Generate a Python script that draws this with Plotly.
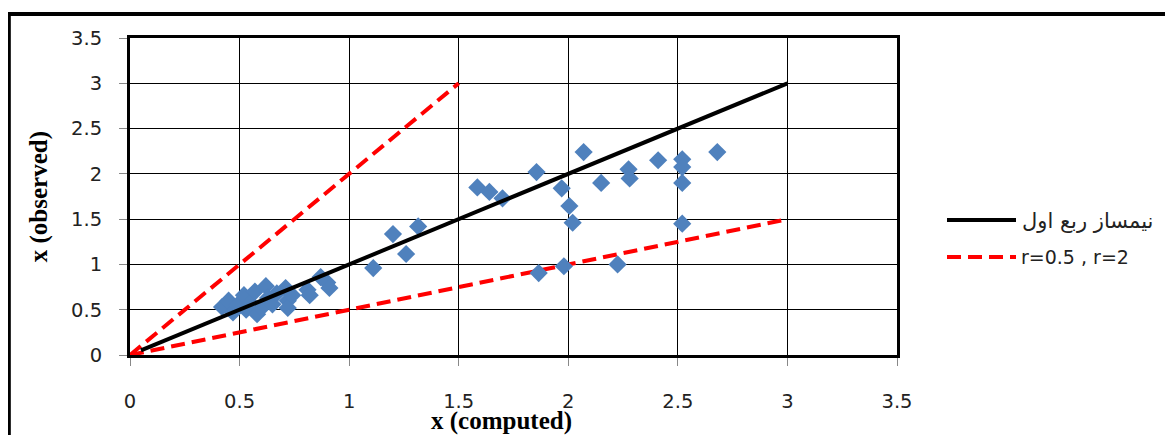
import plotly.graph_objects as go

# observed vs computed values
x_computed = [0.42, 0.45, 0.47, 0.49, 0.52, 0.53, 0.55, 0.57, 0.58, 0.60, 0.62, 0.63, 0.65, 0.67,
              0.71, 0.72, 0.72, 0.74, 0.81, 0.82, 0.87, 0.90, 0.91,
              1.11, 1.20, 1.26, 1.315,
              1.585, 1.64, 1.70, 1.855, 1.865, 1.97, 1.98, 2.005, 2.02, 2.07, 2.15,
              2.225, 2.275, 2.28, 2.41, 2.52, 2.52, 2.52, 2.52, 2.68]
x_observed = [0.53, 0.60, 0.47, 0.55, 0.66, 0.50, 0.57, 0.70, 0.45, 0.52, 0.76, 0.63, 0.56, 0.68,
              0.74, 0.60, 0.52, 0.66, 0.72, 0.66, 0.86, 0.80, 0.74,
              0.96, 1.335, 1.115, 1.42,
              1.85, 1.80, 1.73, 2.02, 0.905, 1.84, 0.98, 1.645, 1.46, 2.24, 1.90,
              1.00, 2.05, 1.95, 2.15, 2.16, 2.075, 1.90, 1.45, 2.24]

# reference lines
bisector_x = [0.05, 3.0]
bisector_y = [0.05, 3.0]
r2_x = [0.0, 1.5]
r2_y = [0.0, 3.0]
r05_x = [0.0, 3.0]
r05_y = [0.0, 1.5]

legend_labels = ["نیمساز ربع اول", "r=0.5 , r=2"]
tick_vals = [0, 0.5, 1, 1.5, 2, 2.5, 3, 3.5]
tick_text = ["0", "0.5", "1", "1.5", "2", "2.5", "3", "3.5"]

RED = "#FF0000"
BLUE = "#4F81BD"

fig = go.Figure()
fig.add_trace(go.Scatter(x=r2_x, y=r2_y, mode="lines",
                         line=dict(color=RED, width=4, dash="14px,7px"), showlegend=False))
fig.add_trace(go.Scatter(x=r05_x, y=r05_y, mode="lines",
                         line=dict(color=RED, width=4, dash="14px,7px"), showlegend=False))
fig.add_trace(go.Scatter(x=x_computed, y=x_observed, mode="markers",
                         marker=dict(symbol="diamond", size=14, color=BLUE), showlegend=False))
fig.add_trace(go.Scatter(x=bisector_x, y=bisector_y, mode="lines",
                         line=dict(color="black", width=4), showlegend=False))

tickfont = dict(family="'DejaVu Sans', sans-serif", size=19.5, color="#222")
axis_common = dict(range=[0, 3.5], tickvals=tick_vals, ticktext=tick_text,
                   showgrid=True, gridcolor="black", gridwidth=1,
                   zeroline=False, showline=True, mirror=True, linecolor="black", linewidth=3,
                   ticks="outside", ticklen=8, tickcolor="#888888", tickwidth=1,
                   tickfont=tickfont)

fig.update_layout(
    width=1173, height=435,
    margin=dict(l=122, r=284, t=30, b=88),
    plot_bgcolor="white", paper_bgcolor="white",
    xaxis=dict(**axis_common, ticklabelstandoff=19),
    yaxis=dict(**axis_common, ticklabelstandoff=13),
)

# outer chart border
fig.add_shape(type="rect", xref="paper", yref="paper",
              x0=-0.158, y0=-0.6, x1=1.6, y1=1.0757,
              line=dict(color="black", width=4), layer="below")

# axis titles
title_font = dict(family="'Liberation Serif', 'Times New Roman', serif", size=25, color="black")
fig.add_annotation(text="<b>x (computed)</b>", xref="paper", yref="paper",
                   x=0.485, y=-0.208, showarrow=False, font=title_font,
                   xanchor="center", yanchor="middle")
fig.add_annotation(text="<b>x (observed)</b>", xref="paper", yref="paper",
                   x=-0.119, y=0.5, showarrow=False, font=title_font, textangle=-90,
                   xanchor="center", yanchor="middle")

# manual legend
def px_x(p):
    return (p - 130) / 767.0

def px_y(p):
    return (355 - p) / 317.0

fig.add_shape(type="line", xref="paper", yref="paper",
              x0=px_x(947), x1=px_x(1016), y0=px_y(220), y1=px_y(220),
              line=dict(color="black", width=4))
fig.add_shape(type="line", xref="paper", yref="paper",
              x0=px_x(947), x1=px_x(1016), y0=px_y(257), y1=px_y(257),
              line=dict(color=RED, width=4, dash="14px,7px"))
leg_font = dict(family="'DejaVu Sans', sans-serif", size=21, color="#222")
fig.add_annotation(text=legend_labels[0], xref="paper", yref="paper",
                   x=px_x(1020), y=px_y(221), showarrow=False, font=leg_font,
                   xanchor="left", yanchor="middle")
fig.add_annotation(text=legend_labels[1], xref="paper", yref="paper",
                   x=px_x(1019), y=px_y(257), showarrow=False,
                   font=dict(family="'DejaVu Sans', sans-serif", size=19, color="#222"),
                   xanchor="left", yanchor="middle")

fig.write_html("out.html")
